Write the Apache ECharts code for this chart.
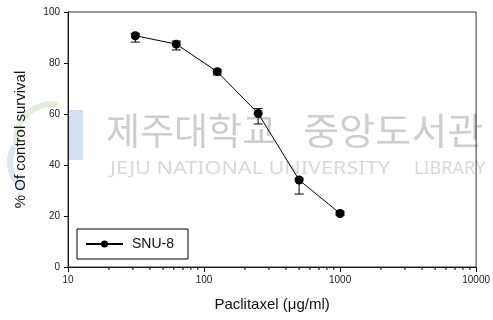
<!DOCTYPE html>
<html>
<head>
<meta charset="utf-8">
<script src="https://cdn.jsdelivr.net/npm/echarts@6/dist/echarts.min.js"></script>
<style>
  html, body { margin: 0; padding: 0; background: #fff; }
  #chart { width: 493px; height: 320px; }
</style>
</head>
<body>
<div id="chart"></div>
<script>
// Paclitaxel dose (ug/ml) and SNU-8 survival (% of control)
const doses = [31.25, 62.5, 125, 250, 500, 1000];
const survival = [90.7, 87.4, 76.6, 60.2, 34.1, 21.0];
const errLow = [88.2, 85.1, 75.3, 56.1, 28.6, 20.3];
const errHigh = [91.6, 88.6, 77.4, 62.1, 34.8, 21.7];
const seriesName = 'SNU-8';
const xTicks = [10, 100, 1000, 10000];
const yTicks = [0, 20, 40, 60, 80, 100];
const minorTickValues = [20, 30, 40, 50, 60, 70, 80, 90, 200, 300, 400, 500, 600, 700, 800, 900,
  2000, 3000, 4000, 5000, 6000, 7000, 8000, 9000];

const chart = echarts.init(document.getElementById('chart'), null, { renderer: 'canvas' });
const FONT = 'Liberation Sans, Arial, sans-serif';

const lineData = doses.map((d, i) => [d, survival[i]]);
const errData = doses.map((d, i) => [d, errLow[i], errHigh[i]]);

chart.setOption({
  animation: false,
  backgroundColor: '#fff',
  grid: { left: 68, right: 16, top: 12, bottom: 53, show: true, borderColor: '#333', borderWidth: 1, backgroundColor: 'transparent', z: 3 },
  legend: {
    data: [seriesName],
    left: 77, top: 229,
    borderColor: '#000', borderWidth: 1, borderRadius: 0,
    padding: [8, 14, 8, 8],
    itemWidth: 37, itemHeight: 9, itemGap: 6,
    textStyle: { fontFamily: FONT, fontSize: 14, color: '#111', padding: [0, 0, 0, 4] },
    backgroundColor: '#fff'
  },
  xAxis: {
    type: 'log', logBase: 10, min: 10, max: 10000,
    name: 'Paclitaxel (\u03bcg/ml)', nameLocation: 'middle', nameGap: 30,
    nameTextStyle: { fontFamily: FONT, fontSize: 15, color: '#111' },
    axisLine: { show: true, onZero: false, lineStyle: { color: '#000', width: 1 } },
    axisTick: { show: true, inside: false, length: 5, lineStyle: { color: '#000' } },
    axisLabel: { fontFamily: FONT, fontSize: 10, color: '#222', margin: 8,
      formatter: v => xTicks.includes(Math.round(v)) ? String(Math.round(v)) : '' },
    splitLine: { show: false }
  },
  yAxis: {
    type: 'value', min: 0, max: 100, interval: 20,
    name: '% Of control survival', nameLocation: 'middle', nameGap: 40,
    nameTextStyle: { fontFamily: FONT, fontSize: 15, color: '#111' },
    axisLine: { show: true, lineStyle: { color: '#000', width: 1 } },
    axisTick: { show: true, inside: false, length: 4, lineStyle: { color: '#000' } },
    axisLabel: { fontFamily: FONT, fontSize: 10, color: '#222', margin: 8,
      formatter: v => yTicks.includes(v) ? String(v) : '' },
    splitLine: { show: false }
  },
  graphic: [
    // library watermark behind the plot
    { type: 'rect', z: -10, shape: { x: 68, y: 110, width: 15, height: 50 }, style: { fill: '#c4d3ee', opacity: 0.75 } },
    { type: 'arc', z: -10, shape: { cx: 52, cy: 140, r: 36, startAngle: Math.PI * 0.95, endAngle: Math.PI * 1.55 }, style: { stroke: '#e2eedb', lineWidth: 6, fill: 'none' } },
    { type: 'arc', z: -10, shape: { cx: 44, cy: 162, r: 34, startAngle: Math.PI * 0.7, endAngle: Math.PI * 1.15 }, style: { stroke: '#d9e6f3', lineWidth: 6, fill: 'none' } },
    { type: 'text', z: -9, x: 106, y: 131, style: { text: '\uc81c\uc8fc\ub300\ud559\uad50', font: '37px "Noto Sans CJK KR"', fill: '#cdcdcd', textVerticalAlign: 'middle' } },
    { type: 'text', z: -9, x: 303, y: 131, scaleX: 1.06, style: { text: '\uc911\uc559\ub3c4\uc11c\uad00', font: '37px "Noto Sans CJK KR"', fill: '#cdcdcd', textVerticalAlign: 'middle' } },
    { type: 'text', z: -9, x: 110, y: 169, scaleX: 1.2, style: { text: 'JEJU NATIONAL UNIVERSITY', font: '18px "Noto Sans"', fill: '#d8d8d8', textVerticalAlign: 'middle' } },
    { type: 'text', z: -9, x: 414, y: 169, style: { text: 'LIBRARY', font: '18px "Noto Sans"', fill: '#d8d8d8', textVerticalAlign: 'middle' } }
  ],
  series: [
    {
      // minor ticks of the log axis
      type: 'custom', name: 'minor', silent: true, clip: false, z: 4,
      data: minorTickValues.map(v => [v, 0]),
      renderItem: (params, api) => {
        const p = api.coord([api.value(0), 0]);
        return { type: 'line', shape: { x1: p[0], y1: p[1], x2: p[0], y2: p[1] + 3 }, style: { stroke: '#000', lineWidth: 1 } };
      }
    },
    {
      // error bars
      type: 'custom', name: 'err', silent: true, z: 5,
      data: errData,
      renderItem: (params, api) => {
        const lo = api.coord([api.value(0), api.value(1)]);
        const hi = api.coord([api.value(0), api.value(2)]);
        const w = 4.5;
        return { type: 'group', children: [
          { type: 'line', shape: { x1: lo[0], y1: lo[1], x2: hi[0], y2: hi[1] }, style: { stroke: '#000', lineWidth: 1 } },
          { type: 'line', shape: { x1: lo[0] - w, y1: lo[1], x2: lo[0] + w, y2: lo[1] }, style: { stroke: '#000', lineWidth: 1 } },
          { type: 'line', shape: { x1: hi[0] - w, y1: hi[1], x2: hi[0] + w, y2: hi[1] }, style: { stroke: '#000', lineWidth: 1 } }
        ] };
      }
    },
    {
      type: 'line', name: seriesName, data: lineData, z: 6,
      symbol: 'circle', symbolSize: 9, showAllSymbol: true,
      lineStyle: { color: '#000', width: 1 },
      itemStyle: { color: '#000', borderWidth: 0 }
    }
  ]
});
</script>
</body>
</html>
